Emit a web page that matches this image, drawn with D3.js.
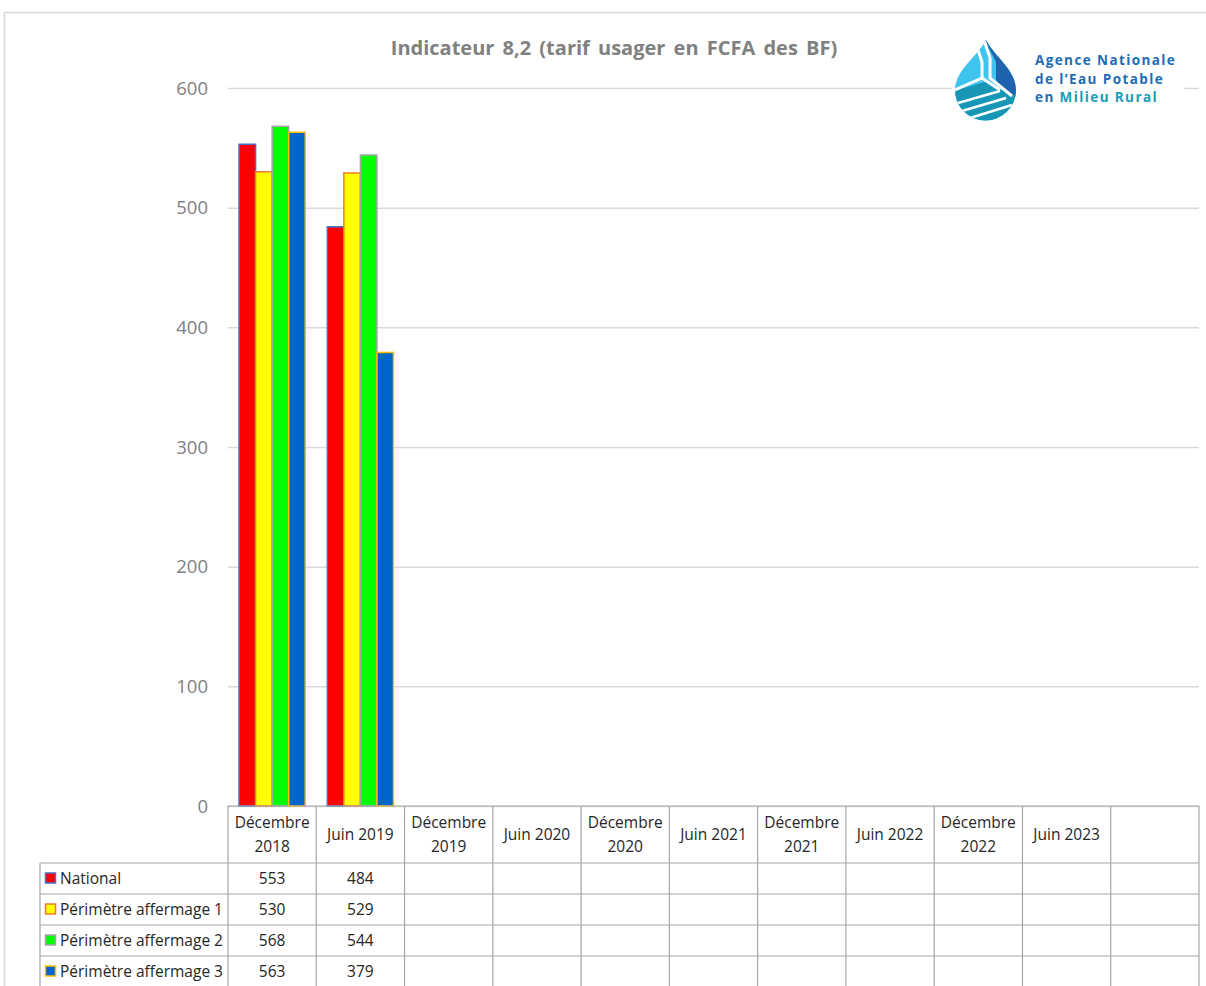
<!DOCTYPE html>
<html>
<head>
<meta charset="utf-8">
<script src="https://cdn.jsdelivr.net/npm/d3@7"></script>
<style>
  html, body { margin: 0; padding: 0; background: #fff; }
  svg { display: block; }
  text { font-family: "Open Sans", "DejaVu Sans", sans-serif; }
</style>
</head>
<body>
<svg id="chart" width="1206" height="986"></svg>
<script>
// Reporting periods (last column intentionally empty)
const categories = ["Décembre 2018", "Juin 2019", "Décembre 2019", "Juin 2020", "Décembre 2020",
  "Juin 2021", "Décembre 2021", "Juin 2022", "Décembre 2022", "Juin 2023", ""];
const headerLines = [["Décembre", "2018"], ["Juin 2019"], ["Décembre", "2019"], ["Juin 2020"],
  ["Décembre", "2020"], ["Juin 2021"], ["Décembre", "2021"], ["Juin 2022"], ["Décembre", "2022"],
  ["Juin 2023"], []];

// Tariff per series (FCFA), null = not yet reported
const seriesNames = ["National", "Périmètre affermage 1", "Périmètre affermage 2", "Périmètre affermage 3"];
const national = [553, 484, null, null, null, null, null, null, null, null, null];
const affermage1 = [530, 529, null, null, null, null, null, null, null, null, null];
const affermage2 = [568, 544, null, null, null, null, null, null, null, null, null];
const affermage3 = [563, 379, null, null, null, null, null, null, null, null, null];
const yTicks = [0, 100, 200, 300, 400, 500, 600];

const fills = ["#FF0000", "#FFFF00", "#00FF00", "#0066CC"];
const strokes = ["#4472C4", "#ED7D31", "#A5A5A5", "#FFC000"];
const seriesValues = [national, affermage1, affermage2, affermage3];

const svg = d3.select("#chart");

// Outer frame
svg.append("rect").attr("x", 4.5).attr("y", 12.5).attr("width", 1210).attr("height", 990)
  .attr("fill", "#fff").attr("stroke", "#D9D9D9").attr("stroke-width", 1.5);

const plot = { left: 228, right: 1199, top: 88, bottom: 806 };

const x = d3.scaleBand().domain(d3.range(categories.length))
  .range([plot.left, plot.right]).paddingInner(0.25).paddingOuter(0.125);
const xCol = d3.scaleBand().domain(d3.range(categories.length))
  .range([plot.left, plot.right]).padding(0);
const xs = d3.scaleBand().domain(d3.range(seriesNames.length)).range([0, x.bandwidth()]);
const y = d3.scaleLinear().domain([0, 600]).range([plot.bottom, plot.top]);

// Gridlines and y labels
const yAxis = d3.axisLeft(y).tickValues(yTicks).tickSize(-(plot.right - plot.left)).tickPadding(20);
const gy = svg.append("g").attr("transform", `translate(${plot.left},0)`).call(yAxis);
gy.select(".domain").remove();
gy.selectAll(".tick line").attr("stroke", "#D9D9D9").attr("stroke-width", 1.5);
gy.selectAll(".tick text").attr("fill", "#808080").attr("font-size", 18.5)
  .attr("font-family", "'Open Sans', sans-serif").attr("dy", "0.34em");

// Bars
const groups = svg.append("g").selectAll("g").data(seriesValues).join("g");
groups.each(function (vals, si) {
  d3.select(this).selectAll("rect")
    .data(vals.map((v, i) => ({ v, i })).filter(d => d.v != null))
    .join("rect")
    .attr("x", d => x(d.i) + xs(si))
    .attr("y", d => y(d.v))
    .attr("width", xs.bandwidth())
    .attr("height", d => y(0) - y(d.v))
    .attr("fill", fills[si])
    .attr("stroke", strokes[si])
    .attr("stroke-width", 1.5);
});

// Title
svg.append("text").attr("x", 614).attr("y", 55).attr("text-anchor", "middle")
  .attr("font-size", 20).attr("font-weight", "bold").attr("fill", "#808080")
  .attr("word-spacing", "3px")
  .text("Indicateur 8,2 (tarif usager en FCFA des BF)");

// Logo block
const logo = svg.append("g");
logo.append("rect").attr("x", 952).attr("y", 36).attr("width", 232).attr("height", 84).attr("fill", "#fff");
const defs = svg.append("defs");
const dropPath = "M986,40 C978,56 955,70 955,90 A30.5,30.5 0 0 0 1016,90 C1016,70 994,56 986,40 Z";
defs.append("clipPath").attr("id", "dropClip").append("path").attr("d", dropPath);
const drop = logo.append("g").attr("clip-path", "url(#dropClip)");
drop.append("rect").attr("x", 950).attr("y", 35).attr("width", 70).attr("height", 90).attr("fill", "#3FC4EE");
drop.append("path").attr("d", "M984,38 L1020,38 L1020,100 L1003,90 L996,80 L996,62 Z").attr("fill", "#1F62AE");
drop.append("path").attr("d", "M950,92 L985,82 L1020,98 L1020,125 L950,125 Z").attr("fill", "#1796B5");
drop.append("path").attr("d", "M984,40 L990,58 L990,78 L1012,96").attr("fill", "none").attr("stroke", "#fff").attr("stroke-width", 3);
drop.append("path").attr("d", "M978,50 L982,62 L982,78 L950,92").attr("fill", "none").attr("stroke", "#fff").attr("stroke-width", 3);
drop.append("path").attr("d", "M982,78 L1000,90").attr("fill", "none").attr("stroke", "#fff").attr("stroke-width", 3);
drop.append("path").attr("d", "M958,103 L1000,91").attr("fill", "none").attr("stroke", "#fff").attr("stroke-width", 2.5);
drop.append("path").attr("d", "M962,111 L1006,98").attr("fill", "none").attr("stroke", "#fff").attr("stroke-width", 2.5);
drop.append("path").attr("d", "M970,118 L1012,105").attr("fill", "none").attr("stroke", "#fff").attr("stroke-width", 2.5);

const logoLines = [
  [{ t: "Agence Nationale", c: "#1F6CB4" }],
  [{ t: "de l’Eau Potable", c: "#1F6CB4" }],
  [{ t: "en ", c: "#1F6CB4" }, { t: "Milieu Rural", c: "#1A9CB8" }]
];
logoLines.forEach((parts, li) => {
  const t = logo.append("text").attr("x", 1035).attr("y", 65 + li * 18.5)
    .attr("font-size", 13.5).attr("font-weight", "bold").attr("letter-spacing", "1.4px");
  parts.forEach(p => t.append("tspan").attr("fill", p.c).text(p.t));
});

// Data table
const table = svg.append("g");
const gridColor = "#A6A6A6";
const headerTop = 806, rowTop = 863, rowH = 31, tableLeft = 40;
const tableBottom = rowTop + rowH * seriesNames.length;

// Column borders
xCol.domain().concat([categories.length]).forEach(i => {
  const xx = i < categories.length ? xCol(i) : plot.right;
  table.append("line").attr("x1", xx).attr("x2", xx).attr("y1", headerTop).attr("y2", tableBottom)
    .attr("stroke", gridColor).attr("stroke-width", 1.2);
});
table.append("line").attr("x1", plot.left).attr("x2", plot.right).attr("y1", headerTop).attr("y2", headerTop)
  .attr("stroke", gridColor).attr("stroke-width", 1.2);
d3.range(seriesNames.length + 1).forEach(r => {
  const yy = rowTop + r * rowH;
  table.append("line").attr("x1", tableLeft).attr("x2", plot.right).attr("y1", yy).attr("y2", yy)
    .attr("stroke", gridColor).attr("stroke-width", 1.2);
});
table.append("line").attr("x1", tableLeft).attr("x2", tableLeft).attr("y1", rowTop).attr("y2", tableBottom)
  .attr("stroke", gridColor).attr("stroke-width", 1.2);

// Header labels
headerLines.forEach((lines, i) => {
  const cx = xCol(i) + xCol.bandwidth() / 2;
  const cy = (headerTop + rowTop) / 2;
  const lh = 24;
  lines.forEach((ln, k) => {
    table.append("text").attr("x", cx).attr("y", cy + (k - (lines.length - 1) / 2) * lh)
      .attr("dy", "0.35em").attr("text-anchor", "middle").attr("font-size", 15.5)
      .attr("fill", "#262626").text(ln);
  });
});

// Legend keys and values
seriesNames.forEach((name, si) => {
  const cy = rowTop + si * rowH + rowH / 2;
  table.append("rect").attr("x", 45.5).attr("y", cy - 5.5).attr("width", 10).attr("height", 10)
    .attr("fill", fills[si]).attr("stroke", strokes[si]).attr("stroke-width", 1.5);
  table.append("text").attr("x", 60).attr("y", cy).attr("dy", "0.35em").attr("font-size", 15.5)
    .attr("fill", "#262626").text(name);
  seriesValues[si].forEach((v, i) => {
    if (v == null) return;
    table.append("text").attr("x", xCol(i) + xCol.bandwidth() / 2).attr("y", cy).attr("dy", "0.35em")
      .attr("text-anchor", "middle").attr("font-size", 15.5).attr("fill", "#262626").text(v);
  });
});
</script>
</body>
</html>
